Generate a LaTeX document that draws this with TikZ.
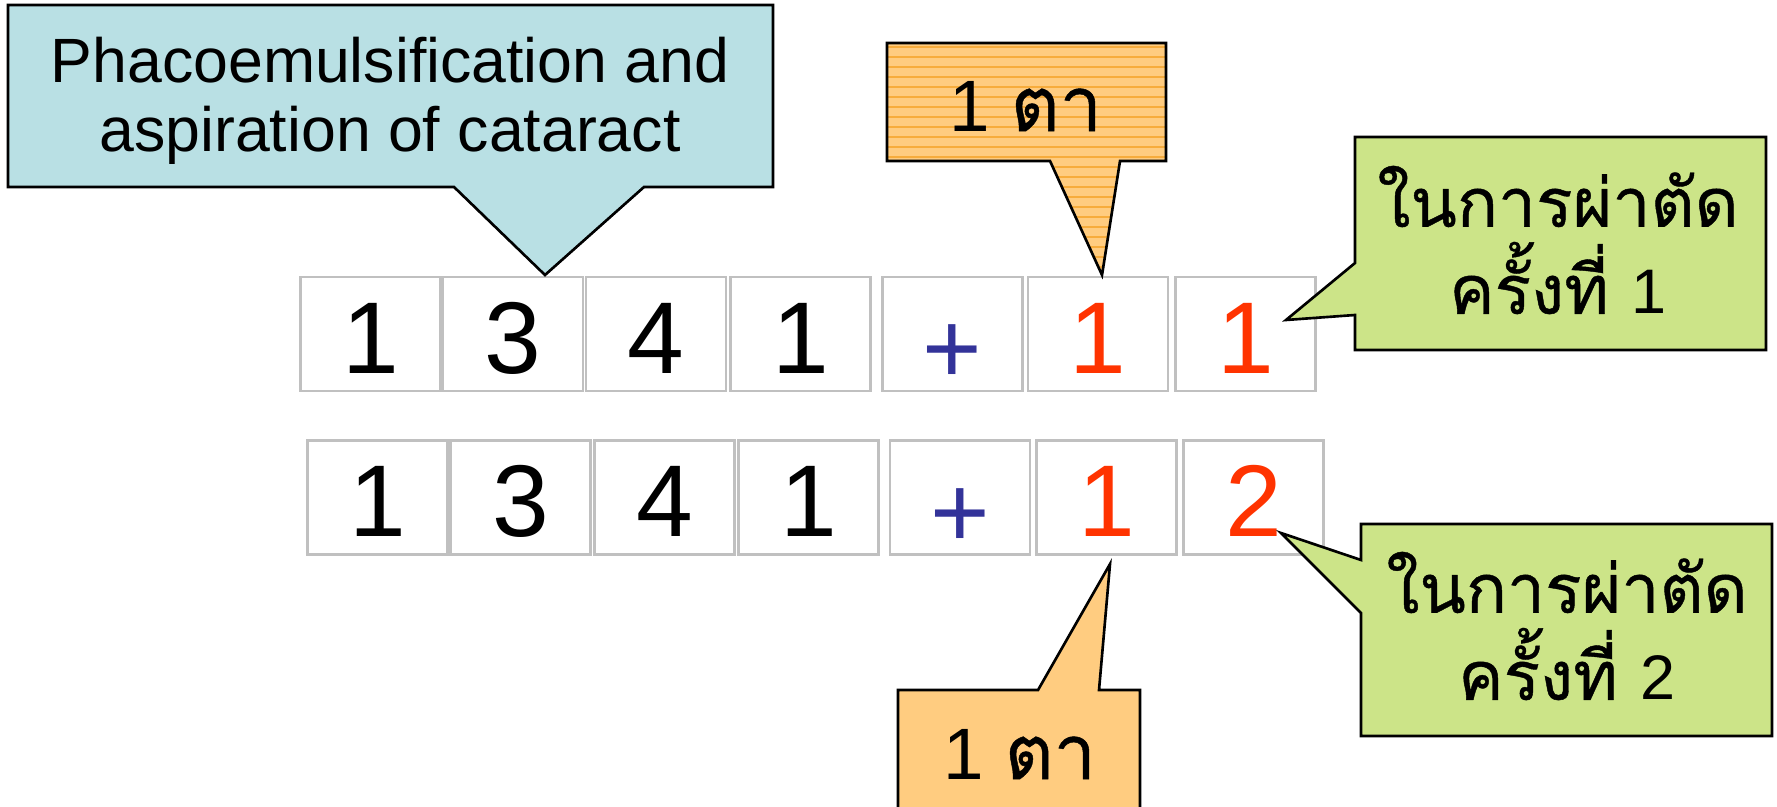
\documentclass[tikz,border=0pt]{standalone}
\usepackage{fontspec}
\setmainfont{Liberation Sans}
\newfontfamily\thaifont[Script=Thai,FakeBold=0.6]{Loma}

\definecolor{calloutblue}{RGB}{185,224,228}
\definecolor{calloutorange}{RGB}{255,204,128}
\definecolor{stripeorange}{RGB}{247,172,60}
\definecolor{calloutgreen}{RGB}{204,228,136}
\definecolor{cellgray}{RGB}{192,192,192}
\definecolor{plusblue}{RGB}{51,51,153}
\definecolor{digitred}{RGB}{255,51,0}

\begin{document}
\begin{tikzpicture}[x=0.01cm, y=-0.01cm, line join=miter,
  cell/.style={draw=cellgray, line width=0.7pt, fill=white, inner sep=0pt,
    minimum width=1.40cm, minimum height=1.14cm, text height=22.2pt, text depth=0pt,
    font=\fontsize{29}{32}\selectfont},
  callout/.style={draw=black, line width=0.75pt},
  every node/.style={align=center}]
  % Page frame, pixel units of the reference.
  \useasboundingbox (0,0) rectangle (1777,807);
  \clip (0,0) rectangle (1777,807);

  % Callout outlines (box plus pointer).
  \def\PhacoCallout{(8,5) -- (773,5) -- (773,187) -- (644,187) -- (545,275) -- (454,187) -- (8,187) -- cycle}
  \def\EyeTopCallout{(887,43) -- (1166,43) -- (1166,161) -- (1120,161) -- (1102,275) -- (1050,161) -- (887,161) -- cycle}
  \def\EyeBotCallout{(898,830) -- (898,690) -- (1038,690) -- (1110,564) -- (1099,690) -- (1140,690) -- (1140,830)}
  \def\FirstCallout{(1355,137) -- (1766,137) -- (1766,350) -- (1355,350) -- (1355,315) -- (1286,320) -- (1355,263) -- cycle}
  \def\SecondCallout{(1361,524) -- (1772,524) -- (1772,736) -- (1361,736) -- (1361,613) -- (1281,533) -- (1361,560) -- cycle}
  \def\PlusSign{\raisebox{-3pt}{+}}
  \def\OneEye{{\fontsize{20.7}{24}\selectfont 1\ }{\thaifont\fontsize{21.5}{24}\selectfont ตา}}

  % Code digits, first row.
  \foreach \x/\t/\c [count=\i] in {370.5/1/black, 513/3/black, 656/4/black, 800.5/1/black,
      952.5/\PlusSign/plusblue, 1098/1/digitred, 1245.5/1/digitred}
    \node[cell, text=\c] (top\i) at (\x,334) {\t};

  % Code digits, second row.
  \foreach \x/\t/\c [count=\i] in {377.5/1/black, 520.5/3/black, 664.5/4/black, 808.5/1/black,
      960/\PlusSign/plusblue, 1106.5/1/digitred, 1253.5/2/digitred}
    \node[cell, text=\c] (bot\i) at (\x,497.5) {\t};

  % Procedure callout.
  \filldraw[callout, fill=calloutblue] \PhacoCallout;
  \node[font=\fontsize{17.8}{19.6}\selectfont] (phaco) at (390,101)
    {Phacoemulsification and\\aspiration of cataract};

  % Eye callouts; the upper one is striped.
  \fill[calloutorange] \EyeTopCallout;
  \begin{scope}
    \clip \EyeTopCallout;
    \foreach \y in {47,57,...,277}
      \draw[stripeorange, line width=0.35pt] (880,\y) -- (1170,\y);
  \end{scope}
  \draw[callout] \EyeTopCallout;
  \node (eyetop) at (1026,106) {\OneEye};

  \filldraw[callout, fill=calloutorange] \EyeBotCallout;
  \node (eyebot) at (1020,754) {\OneEye};

  % Operation-count callouts.
  \filldraw[callout, fill=calloutgreen] \FirstCallout;
  \node[font=\thaifont\fontsize{19.3}{24.75}\selectfont] (first) at (1558,240)
    {ในการผ่าตัด\\ครั้งที่ {\rmfamily\fontsize{17.9}{20}\selectfont 1}};

  \filldraw[callout, fill=calloutgreen] \SecondCallout;
  \node[font=\thaifont\fontsize{19.3}{24.75}\selectfont] (second) at (1567,626)
    {ในการผ่าตัด\\ครั้งที่ {\rmfamily\fontsize{17.9}{20}\selectfont 2}};

\end{tikzpicture}
\end{document}
